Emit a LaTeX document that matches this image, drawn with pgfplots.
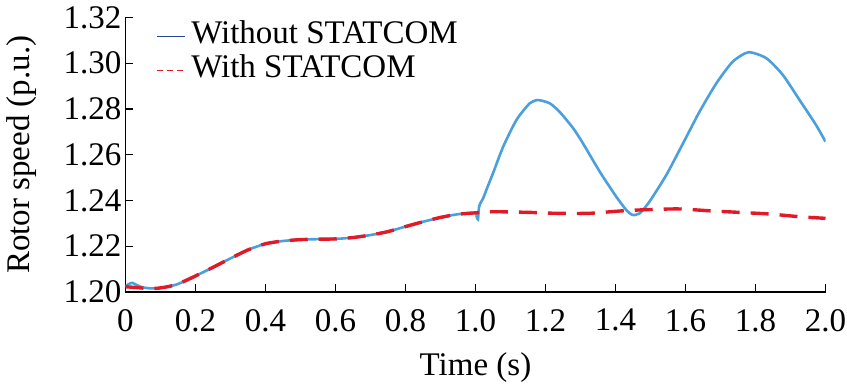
\documentclass[border=0pt]{standalone}
\usepackage{fontspec}
\setmainfont{Liberation Serif}
\usepackage{pgfplots}
\pgfplotsset{compat=1.18}
\definecolor{cblue}{RGB}{74,160,220}
\definecolor{cred}{RGB}{226,26,40}
\definecolor{cnavy}{RGB}{40,70,150}
\begin{document}
\begin{tikzpicture}
\useasboundingbox (-125.5bp,-94bp) rectangle (721.5bp,292bp);
\begin{axis}[
  at={(0,0)}, anchor=south west,
  scale only axis, width=700bp, height=274.5bp,
  xmin=0, xmax=2, ymin=1.20, ymax=1.32,
  axis x line*=bottom, axis y line*=left,
  axis line style={line width=1.3bp, black},
  tick align=inside, major tick length=8bp,
  tick style={line width=1.1bp, black},
  xtick={0,0.2,0.4,0.6,0.8,1.0,1.2,1.4,1.6,1.8,2.0},
  xticklabels={0,0.2,0.4,0.6,0.8,1.0,1.2,1.4,1.6,1.8,2.0},
  ytick={1.20,1.22,1.24,1.26,1.28,1.30,1.32},
  yticklabels={1.20,1.22,1.24,1.26,1.28,1.30,1.32},
  /pgf/number format/assume math mode=true,
  every tick label/.append style={font=\fontsize{33bp}{38bp}\selectfont},
  xticklabel style={inner sep=2bp, yshift=-15bp},
  yticklabel style={inner sep=2bp, xshift=-2bp},
  label style={font=\fontsize{33bp}{38bp}\selectfont},
  xlabel={Time (s)},
  ylabel={Rotor speed (p.u.)},
  xlabel style={at={(axis description cs:0.5,-0.3024)}, anchor=base},
  ylabel style={at={(axis description cs:-0.1378,0.5)}, anchor=base},
  legend style={at={(axis description cs:0.04,1.0)}, anchor=north west, draw=none, fill=none,
    font=\fontsize{33bp}{38bp}\selectfont, row sep=0bp,
    nodes={inner sep=1bp, text height=23bp, text depth=9bp},
    /tikz/every odd column/.append style={column sep=4bp}},
  legend cell align=left,
  legend image code/.code={\draw[#1] (0bp,0bp) -- (28bp,0bp);},
]
\addlegendimage{draw=cnavy, line width=1.6bp}
\addlegendentry{Without STATCOM}
\addlegendimage{draw=cred, line width=1.6bp, dash pattern=on 6bp off 4bp}
\addlegendentry{With STATCOM}

\addplot[forget plot, cblue, line width=2.6bp, smooth, tension=0.4] coordinates {
(0,1.2025) (0.01,1.2035) (0.02,1.2040) (0.035,1.2028) (0.05,1.2020) (0.07,1.2016)
(0.09,1.2016) (0.12,1.2023) (0.15,1.2035) (0.2,1.2070) (0.25,1.2108) (0.3,1.2147)
(0.35,1.2184) (0.4,1.2211) (0.45,1.2223) (0.5,1.2229) (0.55,1.2231) (0.6,1.2232)
(0.65,1.2238) (0.7,1.2249) (0.75,1.2264) (0.8,1.2286) (0.85,1.2307) (0.9,1.2326)
(0.95,1.2340) (1.0,1.2346) (1.003,1.2330) (1.007,1.2318) (1.010,1.2370) (1.014,1.2388)
(1.022,1.2410) (1.031,1.2446) (1.05,1.2519) (1.079,1.2635) (1.117,1.2752) (1.155,1.2825)
(1.179,1.2839) (1.212,1.2825) (1.240,1.2788) (1.279,1.2716) (1.307,1.2650) (1.355,1.2526)
(1.402,1.2417) (1.431,1.2358) (1.448,1.2337) (1.469,1.2344) (1.497,1.2395) (1.545,1.2511)
(1.593,1.2650) (1.640,1.2788) (1.688,1.2912) (1.735,1.3007) (1.780,1.3048) (1.831,1.3022)
(1.878,1.2949) (1.926,1.2839) (1.973,1.2730) (2.0,1.2657)
};
\addplot[forget plot, cred, line width=3.4bp, dash pattern=on 18bp off 11bp, smooth, tension=0.4] coordinates {
(0,1.2023) (0.035,1.2019) (0.05,1.2017) (0.07,1.2016)
(0.09,1.2016) (0.12,1.2023) (0.15,1.2035) (0.2,1.2070) (0.25,1.2108) (0.3,1.2147)
(0.35,1.2184) (0.4,1.2211) (0.45,1.2223) (0.5,1.2229) (0.55,1.2231) (0.6,1.2232)
(0.65,1.2238) (0.7,1.2249) (0.75,1.2264) (0.8,1.2286) (0.85,1.2307) (0.9,1.2326)
(0.95,1.2340) (1.0,1.2346) (1.05,1.2351) (1.155,1.2348) (1.23,1.2344) (1.326,1.2344)
(1.421,1.2355) (1.507,1.2361) (1.583,1.2363) (1.669,1.2355) (1.754,1.2348) (1.84,1.2341)
(1.926,1.2329) (2.0,1.2322)
};
\end{axis}
\end{tikzpicture}
\end{document}
